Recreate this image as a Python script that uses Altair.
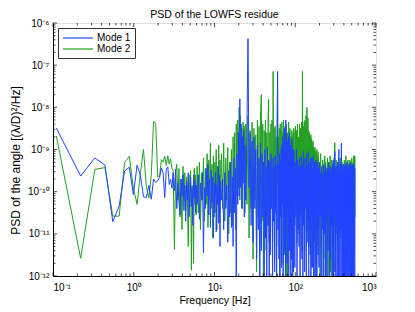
import altair as alt
import pandas as pd

TITLE = "PSD of the LOWFS residue"
X_TITLE = "Frequency [Hz]"
Y_TITLE = "PSD of the angle [(λ/D)²/Hz]"
SERIES = ["Mode 1", "Mode 2"]
COLORS = ["#2244ff", "#22a022"]
FONT = "Liberation Sans"

# frequency grid (Hz)
freq = [
    0.11, 0.22, 0.33, 0.44, 0.55, 0.66, 0.77, 0.88, 0.99, 1.10,
    1.21, 1.32, 1.43, 1.54, 1.65, 1.76, 1.87, 1.98, 2.09, 2.20,
    2.31, 2.42, 2.53, 2.64, 2.75, 2.86, 2.97,
    3.08, 3.19, 3.30, 3.41, 3.52, 3.63, 3.74, 3.85, 3.96, 4.07,
    4.18, 4.29, 4.40, 4.51, 4.62, 4.73, 4.84, 4.95, 5.06, 5.17,
    5.28, 5.39, 5.50, 5.61, 5.72, 5.83, 5.94,
    6.1, 6.3, 6.5, 6.7, 6.9, 7.1, 7.3, 7.5, 7.7, 7.9,
    8.1, 8.3, 8.5, 8.7, 8.9, 9.1, 9.3, 9.5, 9.7, 9.9,
    10.1, 10.3, 10.5, 10.7, 10.9, 11.1, 11.3, 11.5, 11.7, 11.9,
    12.2, 12.6, 13.0, 13.4, 13.8, 14.2, 14.6, 15.0, 15.4, 15.8,
    16.2, 16.6, 17.0, 17.4, 17.8, 18.2, 18.6, 19.0, 19.4, 19.8,
    20.2, 20.6, 21.0, 21.4, 21.8, 22.2, 22.6, 23.0, 23.4, 23.8,
    24.4, 25.2, 26.0, 26.8, 27.6, 28.4, 29.2, 30.0, 30.8, 31.6,
    32.4, 33.2, 34.0, 34.8, 35.6, 36.4, 37.2, 38.0, 38.8, 39.6,
    40.4, 41.2, 42.0, 42.8, 43.6, 44.4, 45.2, 46.0, 46.8, 47.6,
    48.4, 49.2, 50.0, 50.8, 51.6, 52.4, 53.2, 54.0, 54.8, 55.6,
    56.4, 57.2, 58.0, 58.8, 59.6, 60.4, 61.2, 62.0, 62.8, 63.6,
    64.4, 65.2, 66.0, 66.8, 67.6, 68.4, 69.2, 70.0, 70.8, 71.6,
    72.4, 73.2, 74.0, 74.8, 75.6, 76.4, 77.2, 78.0, 78.8, 79.6,
    80.4, 81.2, 82.0, 82.8, 83.6, 84.4, 85.2, 86.0, 86.8, 87.6,
    88.4, 89.2, 90.0, 90.8, 91.6, 92.4, 93.2, 94.0, 94.8, 95.6,
    97.2, 98.8, 100.4, 102.0, 103.6, 105.2, 106.8, 108.4, 110.0, 111.6,
    113.2, 114.8, 116.4, 118.0, 119.6, 121.2, 122.8, 124.4, 126.0, 127.6,
    129.2, 130.8, 132.4, 134.0, 135.6, 137.2, 138.8, 140.4, 142.0, 143.6,
    145.2, 146.8, 148.4, 150.0, 151.6, 153.2, 154.8, 156.4, 158.0, 159.6,
    161.2, 162.8, 164.4, 166.0, 167.6, 169.2, 170.8, 172.4, 174.0, 175.6,
    177.2, 178.8, 180.4, 182.0, 183.6, 185.2, 186.8, 188.4, 190.0, 191.6,
    193.6, 196.8, 200.0, 203.2, 206.4, 209.6, 212.8, 216.0, 219.2, 222.4,
    225.6, 228.8, 232.0, 235.2, 238.4, 241.6, 244.8, 248.0, 251.2, 254.4,
    257.6, 260.8, 264.0, 267.2, 270.4, 273.6, 276.8, 280.0, 283.2, 286.4,
    289.6, 292.8, 296.0, 299.2, 302.4, 305.6, 308.8, 312.0, 315.2, 318.4,
    321.6, 324.8, 328.0, 331.2, 334.4, 337.6, 340.8, 344.0, 347.2, 350.4,
    353.6, 356.8, 360.0, 363.2, 366.4, 369.6, 372.8, 376.0, 379.2, 382.4,
    385.6, 388.8, 392.0, 395.2, 398.4, 401.6, 404.8, 408.0, 411.2, 414.4,
    417.6, 420.8, 424.0, 427.2, 430.4, 433.6, 436.8, 440.0, 443.2, 446.4,
    449.6, 452.8, 456.0, 459.2, 462.4, 465.6, 468.8, 472.0, 475.2, 478.4,
    481.6, 484.8, 488.0, 491.2, 494.4, 497.6, 500.8, 504.0, 507.2, 510.4,
    513.6, 516.8, 520.0, 523.2, 526.4, 529.6, 532.8, 536.0, 539.2, 542.4,
    545.6, 548.8,
]

# log10 of the PSD
mode1_log10 = [
    -8.49, -9.63, -9.20, -9.37, -10.71, -10.34, -9.51, -9.42, -10.07, -9.37,
    -9.62, -10.12, -10.14, -9.85, -10.18, -9.70, -9.78, -9.74, -9.66, -9.44,
    -9.55, -10.14, -9.47, -9.41, -9.83, -9.70, -9.92,
    -9.55, -9.98, -9.47, -10.40, -9.80, -10.25, -10.55, -9.70, -10.10, -9.60,
    -10.45, -9.85, -10.70, -9.75, -10.20, -9.55, -10.60, -10.05, -9.65, -10.35,
    -9.90, -10.80, -9.60, -10.15, -9.72, -10.50, -9.85,
    -10.30, -9.60, -10.65, -9.80, -10.20, -9.55, -11.45, -9.90, -10.40, -9.45,
    -10.10, -9.35, -10.55, -9.70, -10.85, -9.50, -10.25, -9.65, -11.10, -9.80,
    -10.50, -9.55, -10.95, -9.85, -10.30, -9.40, -10.75, -9.60, -11.30, -9.75,
    -10.20, -9.70, -10.90, -9.55, -10.40, -9.85, -11.20, -9.50, -10.60, -9.30,
    -10.85, -9.65, -11.30, -9.20, -10.50, -9.45, -12.40, -9.10, -10.30, -8.60,
    -10.10, -7.80, -9.90, -8.40, -10.40, -8.70, -9.80, -8.55, -10.60, -8.90,
    -10.20, -8.50, -6.37, -9.90, -8.60, -10.80, -8.80, -11.20, -8.70, -10.40,
    -9.00, -11.60, -8.90, -10.90, -9.20, -12.50, -8.85, -11.40, -9.10, -10.60,
    -9.30, -12.60, -9.00, -11.10, -9.40, -12.30, -8.95, -10.80, -9.25, -12.20,
    -9.30, -11.50, -9.10, -10.40, -9.45, -12.40, -9.20, -10.70, -9.40, -11.90,
    -9.15, -10.50, -9.35, -12.50, -9.20, -7.15, -10.90, -9.35, -11.60, -9.10,
    -12.50, -9.25, -10.60, -9.00, -11.80, -8.90, -10.30, -8.70, -12.40, -8.85,
    -10.60, -8.50, -11.40, -8.75, -12.30, -8.30, -10.80, -8.60, -11.70, -8.80,
    -10.40, -9.00, -12.10, -8.70, -10.90, -8.60, -11.40, -9.05, -12.50, -8.90,
    -10.20, -9.10, -11.60, -8.75, -12.60, -9.00, -10.70, -9.20, -11.90, -9.00,
    -9.10, -11.80, -9.30, -10.60, -9.00, -12.40, -9.25, -10.90, -9.40, -11.30,
    -9.20, -12.50, -9.40, -10.50, -9.15, -11.60, -9.35, -12.20, -9.05, -10.80,
    -9.45, -11.90, -9.20, -10.40, -9.35, -12.60, -9.10, -11.20, -9.40, -10.70,
    -9.05, -12.30, -9.30, -10.90, -9.45, -11.50, -9.20, -12.50, -9.35, -10.60,
    -9.20, -11.80, -9.50, -10.80, -9.15, -12.60, -9.40, -11.10, -9.30, -12.40,
    -9.50, -10.50, -9.25, -11.70, -9.45, -12.40, -9.30, -10.90, -9.40, -11.50,
    -9.45, -11.80, -9.30, -10.60, -9.55, -12.50, -9.40, -10.90, -9.60, -12.20,
    -9.35, -11.00, -9.50, -12.60, -9.40, -10.70, -9.55, -12.30, -9.45, -11.40,
    -9.30, -10.50, -9.50, -12.50, -9.40, -11.60, -9.60, -10.80, -9.45, -12.40,
    -9.35, -11.20, -9.25, -12.60, -9.50, -10.60, -9.05, -11.90, -9.45, -12.30,
    -9.40, -10.80, -9.55, -12.50, -9.30, -11.30, -9.50, -12.40, -9.00, -10.70,
    -9.45, -12.60, -9.35, -11.00, -9.55, -12.20, -8.85, -10.90, -9.40, -12.50,
    -9.50, -11.50, -9.35, -12.40, -9.60, -10.60, -9.40, -12.60, -9.50, -11.20,
    -9.35, -12.30, -9.55, -10.80, -9.45, -12.50, -9.30, -11.70, -9.60, -12.40,
    -9.40, -10.90, -9.50, -12.60, -9.35, -11.30, -9.55, -12.20, -9.45, -10.70,
    -9.30, -12.50, -9.50, -11.60, -9.40, -12.40, -9.60, -10.80, -9.35, -12.60,
    -9.55, -11.10, -9.40, -12.30, -9.50, -10.60, -9.35, -12.50, -9.55, -11.40,
    -9.45, -12.60,
]

mode2_log10 = [
    -8.68, -11.58, -9.47, -9.43, -10.58, -10.58, -9.31, -9.16, -9.92, -10.30,
    -9.55, -9.00, -9.87, -10.15, -9.60, -8.34, -8.38, -9.65, -9.62, -9.24,
    -9.30, -9.16, -9.38, -9.15, -9.35, -9.22, -9.45,
    -9.50, -11.37, -9.55, -9.35, -10.20, -9.45, -10.60, -9.70, -10.90, -9.40,
    -10.10, -9.55, -10.45, -9.65, -10.20, -11.30, -9.60, -10.35, -9.50, -11.86,
    -9.85, -10.25, -11.70, -9.45, -10.30, -9.60, -10.55,
    -9.40, -10.50, -9.30, -10.90, -9.55, -10.20, -9.20, -10.70, -9.45, -10.30,
    -9.10, -10.85, -9.25, -10.00, -8.85, -10.40, -9.35, -11.10, -9.15, -10.60,
    -9.30, -10.10, -9.00, -10.90, -9.40, -10.30, -8.90, -10.70, -9.25, -10.20,
    -9.10, -10.40, -8.85, -10.70, -9.20, -10.20, -8.95, -11.00, -9.30, -10.50,
    -9.00, -10.80, -8.70, -10.30, -8.60, -10.90, -8.40, -10.10, -8.30, -9.90,
    -8.00, -10.20, -8.20, -9.70, -8.50, -10.40, -8.35, -9.60, -8.45, -10.50,
    -8.40, -10.30, -8.20, -11.10, -8.55, -10.40, -8.35, -11.60, -8.50, -10.20,
    -8.65, -11.90, -8.30, -10.60, -8.45, -11.30, -8.10, -7.70, -10.70, -8.40,
    -12.30, -8.55, -10.50, -8.30, -11.40, -8.60, -10.80, -8.25, -7.81, -11.20,
    -8.60, -10.90, -8.40, -10.20, -8.30, -11.20, -7.15, -10.40, -8.50, -11.60,
    -8.45, -10.30, -8.70, -11.30, -8.55, -7.20, -9.80, -8.70, -10.60, -8.50,
    -12.50, -8.40, -10.60, -8.55, -11.10, -8.35, -10.20, -8.60, -11.70, -8.30,
    -10.40, -8.65, -11.50, -8.45, -10.10, -8.55, -12.40, -8.40, -10.70, -8.60,
    -12.40, -8.70, -10.50, -8.35, -11.00, -8.60, -10.30, -8.50, -11.40, -8.70,
    -10.20, -8.80, -11.60, -8.55, -10.50, -8.70, -12.20, -8.60, -10.80, -8.50,
    -8.60, -10.80, -8.45, -10.30, -8.55, -11.20, -8.40, -10.50, -8.70, -11.00,
    -8.40, -10.60, -8.50, -10.20, -8.35, -11.40, -7.15, -10.10, -8.45, -10.70,
    -8.35, -11.40, -8.30, -10.40, -8.20, -10.90, -8.00, -8.05, -10.60, -8.25,
    -11.00, -8.55, -10.40, -8.60, -11.30, -8.70, -10.20, -8.65, -11.80, -8.75,
    -10.30, -8.85, -11.50, -8.80, -10.60, -8.95, -11.20, -9.00, -10.40, -8.95,
    -10.70, -9.05, -12.40, -9.10, -10.50, -9.00, -11.30, -9.15, -10.60, -9.05,
    -9.20, -10.80, -9.35, -12.40, -9.10, -11.30, -9.45, -10.60, -9.25, -12.50,
    -9.40, -10.90, -9.15, -11.60, -9.30, -12.30, -9.45, -10.70, -9.20, -11.20,
    -9.50, -12.50, -9.30, -10.70, -9.15, -11.90, -9.40, -10.50, -9.25, -12.20,
    -9.45, -10.60, -9.30, -11.20, -9.20, -10.80, -8.84, -11.90, -9.40, -10.40,
    -9.25, -11.00, -9.50, -10.50, -9.30, -11.40, -9.45, -10.60, -9.20, -10.90,
    -9.50, -10.30, -9.35, -11.10, -9.20, -10.60, -9.45, -10.80, -9.30, -10.40,
    -9.55, -11.20, -9.35, -10.70, -9.45, -10.50, -9.25, -10.90, -9.50, -10.40,
    -9.30, -11.00, -9.15, -10.60, -9.45, -11.30, -9.35, -10.50, -9.50, -10.80,
    -9.25, -10.40, -9.55, -11.20, -9.35, -10.70, -9.45, -10.50, -9.25, -10.90,
    -9.50, -10.40, -9.30, -11.00, -9.45, -10.60, -9.20, -10.80, -9.40, -10.30,
    -9.50, -11.10, -9.30, -10.50, -9.15, -10.90, -9.45, -10.40, -9.20, -10.70,
    -9.15, -10.60,
]

x_major = [0.1, 1, 10, 100, 1000]
x_tick_labels = ["10⁻¹", "10⁰", "10¹", "10²", "10³"]
y_major = [1e-12, 1e-11, 1e-10, 1e-9, 1e-8, 1e-7, 1e-6]
y_tick_labels = ["10⁻¹²", "10⁻¹¹", "10⁻¹⁰", "10⁻⁹", "10⁻⁸", "10⁻⁷", "10⁻⁶"]
minor_mult = [2, 3, 4, 5, 6, 7, 8, 9]
x_minor = [m * d for d in [0.1, 1, 10, 100] for m in minor_mult]
y_minor = [m * 10.0 ** e for e in range(-12, -6) for m in minor_mult]

W, H = 323, 253

df1 = pd.DataFrame({"freq": freq, "psd": [10.0 ** v for v in mode1_log10], "mode": SERIES[0]})
df2 = pd.DataFrame({"freq": freq, "psd": [10.0 ** v for v in mode2_log10], "mode": SERIES[1]})

xscale = alt.Scale(type="log", domain=[0.1, 1000], nice=False)
yscale = alt.Scale(type="log", domain=[1e-12, 1e-6], nice=False)

x_expr = "[" + ",".join("'%s'" % s for s in x_tick_labels) + "][round(log(datum.value)/LN10)+1]"
y_expr = "[" + ",".join("'%s'" % s for s in y_tick_labels) + "][round(log(datum.value)/LN10)+12]"

x_axis = alt.Axis(values=x_major, labelExpr=x_expr, ticks=False, grid=False,
                  domainColor="black", labelFont=FONT, labelFontSize=10, labelColor="black",
                  labelPadding=6, title=X_TITLE, titleFont=FONT, titleFontSize=10.5,
                  titleFontWeight="normal", titleColor="black", titlePadding=3)
y_axis = alt.Axis(values=y_major, labelExpr=y_expr, ticks=False, grid=False,
                  domainColor="black", labelFont=FONT, labelFontSize=10, labelColor="black",
                  labelPadding=4, title=Y_TITLE, titleFont=FONT, titleFontSize=12,
                  titleFontWeight="normal", titleColor="black", titlePadding=5,
                  titleY=137)

color = alt.Color("mode:N", scale=alt.Scale(domain=SERIES, range=COLORS),
                  legend=alt.Legend(title=None, orient="none", legendX=5, legendY=5,
                                    direction="vertical", symbolType="M-3,0L3,0",
                                    symbolSize=100, symbolStrokeWidth=1.2, symbolOffset=10,
                                    labelFont=FONT, labelFontSize=10, labelColor="black",
                                    labelOffset=13, rowPadding=0, padding=4,
                                    strokeColor="#333333", fillColor="white"))

def series(df):
    return alt.Chart(df).mark_line(strokeWidth=1, clip=True).encode(
        x=alt.X("freq:Q", scale=xscale, axis=x_axis),
        y=alt.Y("psd:Q", scale=yscale, axis=y_axis),
        color=color,
    )

def xticks(vals, y0, y1):
    return alt.Chart(pd.DataFrame({"freq": vals})).mark_rule(color="black", strokeWidth=0.7).encode(
        x=alt.X("freq:Q", scale=xscale, axis=x_axis), y=alt.value(y0), y2=alt.value(y1))

def yticks(vals, x0, x1):
    return alt.Chart(pd.DataFrame({"psd": vals})).mark_rule(color="black", strokeWidth=0.7).encode(
        y=alt.Y("psd:Q", scale=yscale, axis=y_axis), x=alt.value(x0), x2=alt.value(x1))

layers = [
    series(df2), series(df1),
    xticks(x_major, H, H - 4), xticks(x_minor, H, H - 2.5),
    xticks(x_major, 0, 4), xticks(x_minor, 0, 2.5),
    yticks(y_major, 0, 4), yticks(y_minor, 0, 2.5),
    yticks(y_major, W, W - 4), yticks(y_minor, W, W - 2.5),
]

chart = alt.layer(*layers).properties(
    width=W, height=H,
    title=alt.TitleParams(TITLE, font=FONT, fontSize=10.5, fontWeight="normal",
                          color="black", anchor="middle", offset=3, dy=5),
    padding={"left": 45, "top": 15, "right": 10, "bottom": 30},
    autosize=alt.AutoSizeParams(type="none"),
).configure_view(stroke="black", strokeWidth=1).configure(background="white")

chart.save("out.html", embed_options={"renderer": "svg", "actions": False})
